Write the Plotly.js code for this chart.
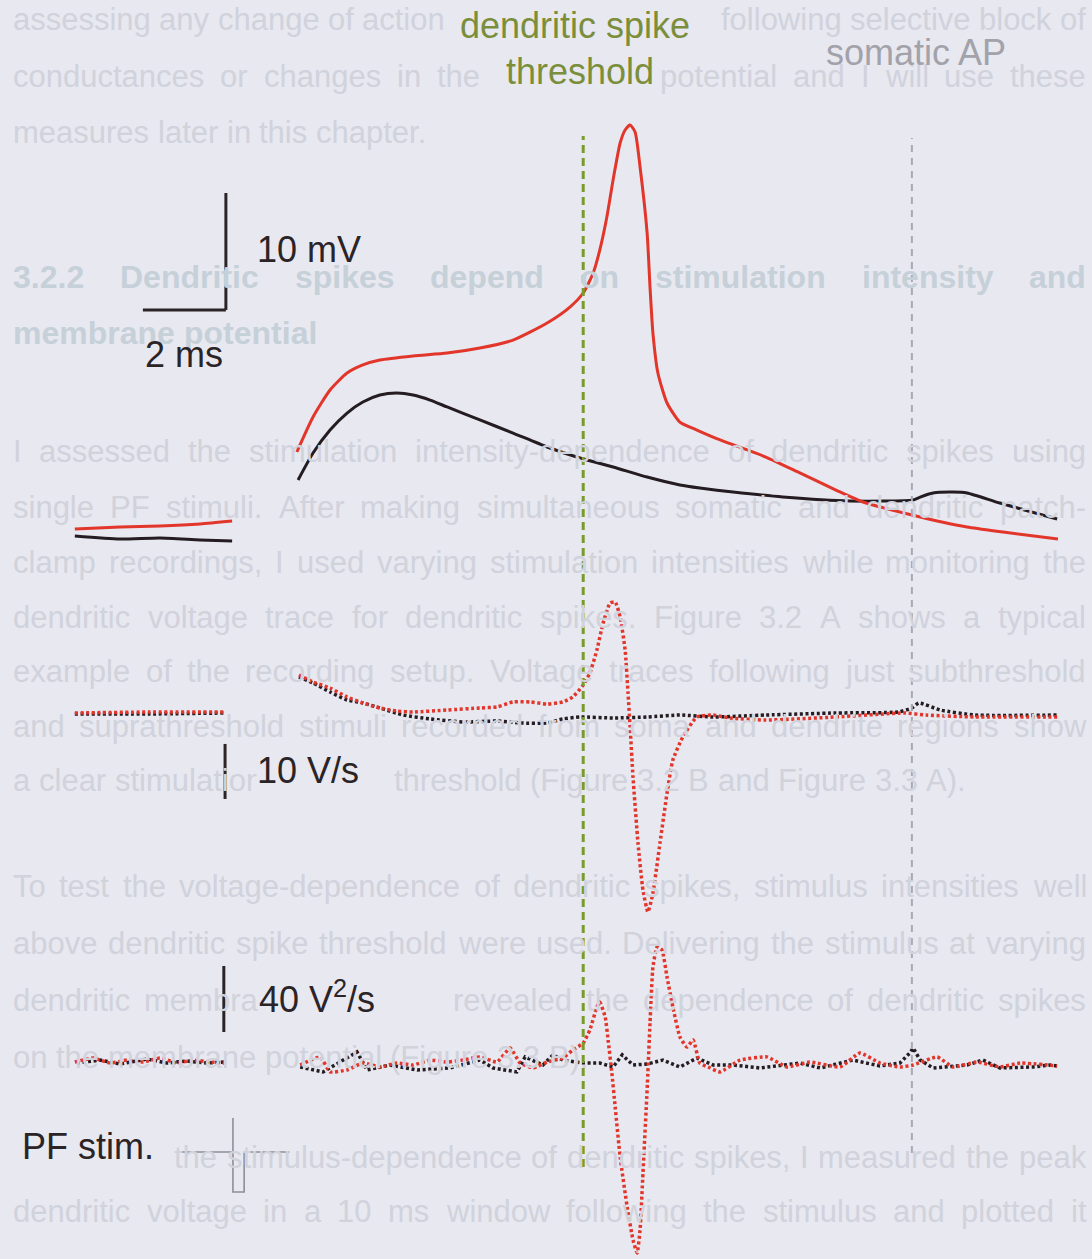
<!DOCTYPE html>
<html>
<head>
<meta charset="utf-8">
<script src="https://cdn.plot.ly/plotly-3.0.1.min.js"></script>
<style>
  html, body { margin: 0; padding: 0; background: #e8e8f0; }
  #fig { width: 1092px; height: 1259px; }
</style>
</head>
<body>
<div id="fig"></div>
<script>
// ---- recordings: time in ms after the PF stimulus ----
// pre-stimulus baseline (voltage rows)
const preT      = [-3.98, -2.89, -1.93, -0.96, -0.19];
const preSupraV = [0.77, 0.94, 1.03, 1.20, 1.45];
const preSubV   = [0.17, -0.09, 0.00, -0.17, -0.26];

// suprathreshold response (red), dendritic voltage, mV
const supraT = [1.37,1.76,2.17,2.58,2.96,3.37,4.17,4.99,5.78,6.58,7.40,7.95,8.27,8.51,8.67,8.84,8.99,9.16,9.28,9.40,
                9.52,9.64,9.81,9.88,9.95,10.07,10.29,10.60,11.01,11.57,12.67,13.49,14.36,15.01,16.19,17.52,18.39,19.71];
const supraV = [7.35,10.34,12.65,14.10,14.79,15.21,15.56,15.81,16.24,16.92,18.38,19.74,20.94,22.65,24.62,27.44,30.60,33.76,34.87,35.30,
                34.70,31.71,26.07,21.45,17.52,14.10,11.54,9.91,9.23,8.38,6.92,5.56,4.10,3.08,1.97,0.94,0.51,-0.09];

// subthreshold response (black), mV
const subT = [1.40,1.76,2.17,2.58,2.96,3.37,3.78,4.17,4.58,4.99,5.78,6.58,7.40,8.19,8.99,9.81,10.60,11.08,11.88,13.08,
              14.70,16.22,16.39,16.70,17.18,17.52,18.31,19.69];
const subV = [4.96,7.26,9.23,10.68,11.62,12.22,12.39,12.22,11.79,11.20,10.09,8.97,7.78,6.84,6.07,5.21,4.53,4.27,3.93,3.50,
              3.16,3.25,3.50,3.85,3.93,3.85,2.99,1.62];

// first derivative dV/dt, V/s
const preDvT     = [-3.98, -2.17, -0.36];
const preSupraDv = [0.73, 0.91, 0.91];
const preSubDv   = [0.55, 0.55, 0.73];
const supraDvT = [1.42,1.76,2.17,2.58,2.96,3.37,3.78,4.17,4.99,5.78,6.19,6.58,6.99,7.40,7.78,8.02,8.27,8.43,8.60,8.75,
                  8.92,9.04,9.16,9.28,9.35,9.40,9.47,9.59,9.71,9.83,9.95,10.12,10.29,10.43,10.67,11.01,11.40,11.81,12.67,14.36,
                  16.02,16.53,17.71,19.71];
const supraDv  = [7.64,6.36,5.27,3.64,2.55,1.64,1.09,0.91,1.27,1.64,1.82,2.73,2.73,2.36,2.73,3.64,5.82,8.00,12.18,17.09,
                  20.73,20.91,18.18,12.18,4.36,-1.82,-10.91,-22.91,-31.45,-35.45,-32.00,-22.91,-13.82,-7.82,-3.64,0,0.36,-0.18,-0.55,0,
                  0.73,0.36,0,0];
const subDvT = [1.42,1.76,2.17,2.58,2.96,3.37,3.93,4.58,5.37,6.19,6.75,7.40,7.78,8.19,8.99,9.81,10.60,11.40,12.67,14.36,
                15.86,16.19,16.36,16.87,17.71,19.71];
const subDv  = [7.27,6.18,4.55,3.09,2.55,1.64,0.36,-0.36,-0.91,-0.73,-1.09,-1.09,-0.36,0,-0.18,0,0.36,0,0.36,0.73,
                0.91,1.64,2.55,1.27,0.36,0.36];

// second derivative, V²/s
const preSupraD2T = [-3.98,-3.54,-3.13,-2.72,-2.34,-1.93,-1.52,-1.13,-0.72,-0.36];
const preSupraD2  = [2.4,4.8,1.8,3.6,2.4,4.8,1.8,3.6,2.4,1.8];
const preSubD2T   = [-3.93,-3.37,-2.89,-2.24,-1.76,-1.28,-0.80,-0.36];
const preSubD2    = [1.8,3.6,1.2,4.2,1.8,3.0,1.8,2.4];
const supraD2T = [1.45,1.93,2.17,2.58,2.96,3.37,3.78,4.17,4.58,4.99,5.37,5.78,6.19,6.51,6.75,7.06,7.40,7.78,8.02,8.27,
                  8.43,8.60,8.67,8.80,8.87,8.96,9.04,9.16,9.33,9.47,9.57,9.64,9.71,9.81,9.88,9.95,10.05,10.17,10.29,10.43,
                  10.60,10.77,10.92,11.08,11.33,11.57,12.05,12.70,13.18,13.73,14.46,14.94,15.42,15.90,16.22,16.80,17.18,17.76,18.31,18.80,
                  19.69];
const supraD2  = [0.6,5.5,-3.6,-2.4,1.8,-0.6,1.8,0.6,3.6,2.4,3.6,5.5,2.4,10.9,1.8,-1.2,2.4,4.8,9.7,13.9,
                  21.8,35.8,38.8,29.7,15.8,-4.2,-24.8,-55.2,-85.5,-105.5,-113.3,-99.4,-64.8,-14.5,26.1,60.0,72.1,70.3,53.9,35.8,
                  17.6,11.5,15.8,1.8,-1.2,-3.6,3.6,5.5,-0.6,2.4,-0.6,7.9,1.8,-0.6,0.6,5.5,-0.6,2.4,-0.6,1.8,
                  0];
const subD2T = [1.45,2.00,2.82,3.06,3.61,4.27,5.06,5.78,6.10,6.67,6.87,7.30,7.54,7.78,8.27,8.67,8.99,9.21,9.47,9.81,
                10.19,10.60,11.01,11.40,11.88,12.53,13.49,13.98,14.77,15.42,15.90,16.14,16.22,16.39,16.70,17.52,17.90,18.31,19.11,19.52,
                19.69];
const subD2  = [-0.6,-3.6,8.5,-2.4,0.6,-2.4,-1.2,3.6,-1.2,-3.6,5.5,0.6,6.7,3.6,1.8,1.8,-0.6,6.7,0.6,1.2,
                3.6,-0.6,4.8,0.6,0.6,-1.2,1.8,-1.2,3.6,0,1.8,7.9,10.9,3.6,-1.2,0.6,3.6,-1.2,-0.6,0.6,
                0];

// PF stimulus waveform (arbitrary units)
const stimT = [-1.40, -0.17, -0.17, -0.17, 0.10, 0.10, 1.19];
const stimA = [0, 0, 34, -40, -40, 0, 0];

// event markers (ms)
const spikeThresholdT = 8.27;
const somaticApT = 16.19;

// scale bars
const barMv = 10, barMs = 2, barDv = 10, barD2 = 40;

// ---- geometry of the figure ----
const W = 1092, H = 1259;
const BG = '#e8e8f0';
const msPx = 41.5, stimX = 240;               // 41.5 px per ms, stimulus at x = 240
const xRange = [-stimX / msPx, (W - stimX) / msPx];
function rangeFor(basePx, pxPerUnit) { return [-(H - basePx) / pxPerUnit, basePx / pxPerUnit]; }

const RED = '#e2362b', BLACK = '#241c21', INK = '#2b2427';
const FONT = 'Liberation Sans, Arial, Helvetica, sans-serif';
const LABEL_SIZE = 36;

function joinPre(preX, preY, x, y) {
  return { x: preX.concat([null], x), y: preY.concat([null], y) };
}

const vSub = joinPre(preT, preSubV, subT, subV);
const vSupra = joinPre(preT, preSupraV, supraT, supraV);
const dvSub = joinPre(preDvT, preSubDv, subDvT, subDv);
const dvSupra = joinPre(preDvT, preSupraDv, supraDvT, supraDv);
const d2Sub = joinPre(preSubD2T, preSubD2, subD2T, subD2);
const d2Supra = joinPre(preSupraD2T, preSupraD2, supraD2T, supraD2);

const dotted = '3px,2.6px';
const traces = [
  { x: vSub.x, y: vSub.y, yaxis: 'y', mode: 'lines', line: { color: BLACK, width: 3, shape: 'spline', smoothing: 0.6 } },
  { x: vSupra.x, y: vSupra.y, yaxis: 'y', mode: 'lines', line: { color: RED, width: 3, shape: 'spline', smoothing: 0.6 } },
  { x: dvSub.x, y: dvSub.y, yaxis: 'y2', mode: 'lines', line: { color: BLACK, width: 3.5, dash: dotted, shape: 'spline', smoothing: 0.5 } },
  { x: dvSupra.x, y: dvSupra.y, yaxis: 'y2', mode: 'lines', line: { color: RED, width: 3.5, dash: dotted, shape: 'spline', smoothing: 0.5 } },
  { x: d2Sub.x, y: d2Sub.y, yaxis: 'y3', mode: 'lines', line: { color: BLACK, width: 3.5, dash: dotted } },
  { x: d2Supra.x, y: d2Supra.y, yaxis: 'y3', mode: 'lines', line: { color: RED, width: 3.5, dash: dotted, shape: 'spline', smoothing: 0.4 } },
  { x: stimT, y: stimA, yaxis: 'y4', mode: 'lines', line: { color: '#8e8e96', width: 1.6 } }
];

const measureCtx = document.createElement('canvas').getContext('2d');
function textWidth(s, size, bold) {
  measureCtx.font = (bold ? 'bold ' : '') + size + 'px "Liberation Sans"';
  return measureCtx.measureText(s).width;
}

// ---- figure labels: text, px position, anchor, colour, whether it masks the page text ----
const figLabels = [
  { text: 'dendritic spike', plain: 'dendritic spike', px: 575, py: 25, anchor: 'center', color: '#7b8e3b', mask: true },
  { text: 'threshold', plain: 'threshold', px: 580, py: 72, anchor: 'center', color: '#7b8e3b' },
  { text: 'somatic AP', plain: 'somatic AP', px: 916, py: 52, anchor: 'center', color: '#a2a2aa' },
  { text: '10 mV', plain: '10 mV', px: 256, py: 250, anchor: 'left' },
  { text: '2 ms', plain: '2 ms', px: 144, py: 355, anchor: 'left' },
  { text: '10 V/s', plain: '10 V/s', px: 256, py: 770, anchor: 'left', mask: true },
  { text: '40 V<sup>2</sup>/s', plain: '40 V2/s', px: 258, py: 997, anchor: 'left', mask: true },
  { text: 'PF stim.', plain: 'PF stim.', px: 21, py: 1146, anchor: 'left' }
];
const labelBoxes = figLabels.map(l => {
  const w = textWidth(l.plain, LABEL_SIZE, false);
  const x0 = l.anchor === 'center' ? l.px - w / 2 : l.px;
  return { x0: x0, x1: x0 + w, y0: l.py - 13, y1: l.py + 13 };
});

// ---- page text behind the figure ----
const textLeft = 12, textRight = 1085;
const pageLines = [
  { y: 20,  text: 'assessing any change of action potential waveform following selective block of', justify: true },
  { y: 76,  text: 'conductances or changes in the membrane potential and I will use these', justify: true },
  { y: 132, text: 'measures later in this chapter.', justify: false },
  { y: 277, text: '3.2.2 Dendritic spikes depend on stimulation intensity and', justify: true, bold: true },
  { y: 333, text: 'membrane potential', justify: false, bold: true },
  { y: 452, text: 'I assessed the stimulation intensity-dependence of dendritic spikes using', justify: true },
  { y: 507, text: 'single PF stimuli. After making simultaneous somatic and dendritic patch-', justify: true },
  { y: 562, text: 'clamp recordings, I used varying stimulation intensities while monitoring the', justify: true },
  { y: 617, text: 'dendritic voltage trace for dendritic spikes. Figure 3.2 A shows a typical', justify: true },
  { y: 671, text: 'example of the recording setup. Voltage traces following just subthreshold', justify: true },
  { y: 726, text: 'and suprathreshold stimuli recorded from soma and dendrite regions show', justify: true },
  { y: 781, text: 'a clear stimulation intensity threshold (Figure 3.2 B and Figure 3.3 A).', justify: false },
  { y: 886, text: 'To test the voltage-dependence of dendritic spikes, stimulus intensities well', justify: true },
  { y: 943, text: 'above dendritic spike threshold were used. Delivering the stimulus at varying', justify: true },
  { y: 1000, text: 'dendritic membrane potentials revealed the dependence of dendritic spikes', justify: true },
  { y: 1057, text: 'on the membrane potential (Figure 3.3 B).', justify: false },
  { y: 1157, text: 'To quantify the stimulus-dependence of dendritic spikes, I measured the peak', justify: true },
  { y: 1211, text: 'dendritic voltage in a 10 ms window following the stimulus and plotted it', justify: true }
];

// a word mostly hidden behind a figure label is left out
function coveredByLabel(x0, x1, y0, y1) {
  return labelBoxes.some(b => Math.min(x1, b.x1) - Math.max(x0, b.x0) > 0.3 * (x1 - x0) &&
                              Math.min(y1, b.y1) - Math.max(y0, b.y0) > 8);
}

function pageWordAnnotations(line) {
  const size = line.bold ? 32 : 31;
  const words = line.text.split(' ');
  const widths = words.map(w => textWidth(w, size, line.bold));
  const total = widths.reduce((a, b) => a + b, 0);
  let gap = textWidth(' ', size, line.bold);
  if (line.justify && words.length > 1) gap = Math.max(4, (textRight - textLeft - total) / (words.length - 1));
  let x = textLeft;
  const out = [];
  words.forEach((w, i) => {
    const half = size * 0.37;
    if (!coveredByLabel(x, x + widths[i], line.y - half, line.y + half)) {
      out.push({
        xref: 'paper', yref: 'paper', x: x / W, y: 1 - line.y / H,
        xanchor: 'left', yanchor: 'middle', showarrow: false, borderpad: 0,
        text: line.bold ? '<b>' + w + '</b>' : w,
        font: { family: FONT, size: size, color: line.bold ? '#c6d0d8' : '#d0d2dc' }
      });
    }
    x += widths[i] + gap;
  });
  return out;
}
let annotations = [];
pageLines.forEach(l => { annotations = annotations.concat(pageWordAnnotations(l)); });

figLabels.forEach(l => annotations.push(Object.assign({
  xref: 'paper', yref: 'paper', x: l.px / W, y: 1 - l.py / H, xanchor: l.anchor, yanchor: 'middle',
  showarrow: false, borderpad: 0,
  text: l.text, font: { family: FONT, size: LABEL_SIZE, color: l.color || INK }
}, l.mask ? { bgcolor: BG } : {})));

// ---- scale bars and event markers ----
const barStyle = { color: INK, width: 3 };
const mvCornerT = -0.34, mvCornerV = 19.49;
const shapes = [
  { type: 'line', xref: 'x', yref: 'y', x0: mvCornerT, x1: mvCornerT, y0: mvCornerV, y1: mvCornerV + barMv, line: barStyle },
  { type: 'line', xref: 'x', yref: 'y', x0: mvCornerT - barMs, x1: mvCornerT, y0: mvCornerV, y1: mvCornerV, line: barStyle },
  { type: 'line', xref: 'x', yref: 'y2', x0: -0.36, x1: -0.36, y0: -14.9, y1: -14.9 + barDv, line: barStyle },
  { type: 'line', xref: 'x', yref: 'y3', x0: -0.39, x1: -0.39, y0: 20.6, y1: 20.6 + barD2, line: barStyle },
  { type: 'line', xref: 'x', yref: 'paper', x0: spikeThresholdT, x1: spikeThresholdT, y0: 1 - 1167 / H, y1: 1 - 136 / H,
    line: { color: '#7a9a2c', width: 3, dash: '8px,5px' } },
  { type: 'line', xref: 'x', yref: 'paper', x0: somaticApT, x1: somaticApT, y0: 1 - 1153 / H, y1: 1 - 138 / H,
    line: { color: '#a9a9b3', width: 2, dash: '7px,6px' } }
];

const hidden = { visible: false, fixedrange: true };
const layout = {
  width: W, height: H,
  margin: { l: 0, r: 0, t: 0, b: 0, pad: 0 },
  paper_bgcolor: BG, plot_bgcolor: BG,
  showlegend: false,
  font: { family: FONT, color: INK },
  xaxis: Object.assign({ range: xRange }, hidden),
  yaxis: Object.assign({ range: rangeFor(538, 11.7) }, hidden),
  yaxis2: Object.assign({ range: rangeFor(717, 5.5), overlaying: 'y' }, hidden),
  yaxis3: Object.assign({ range: rangeFor(1066, 1.65), overlaying: 'y' }, hidden),
  yaxis4: Object.assign({ range: rangeFor(1152, 1), overlaying: 'y' }, hidden),
  shapes: shapes,
  annotations: annotations
};

Plotly.newPlot('fig', traces, layout, { staticPlot: true, displayModeBar: false });
</script>
</body>
</html>
